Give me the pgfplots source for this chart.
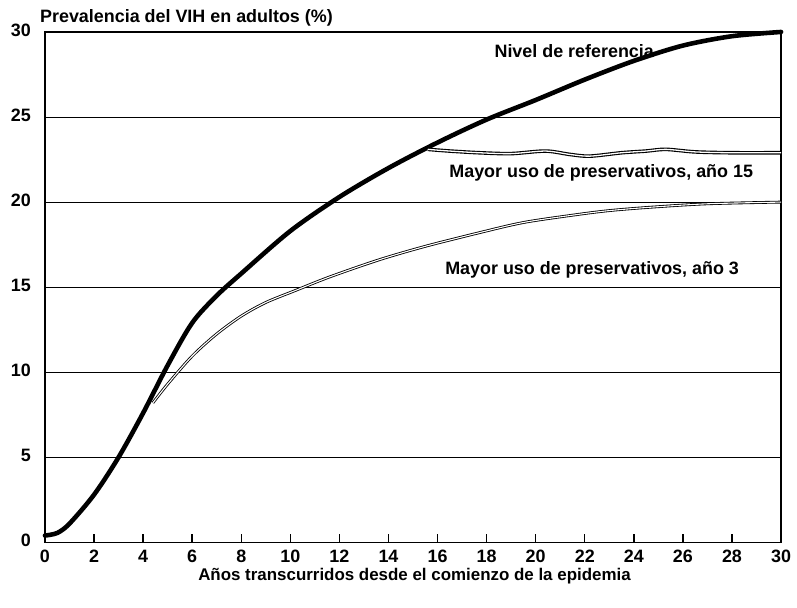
\documentclass[border=0pt]{standalone}
\usepackage{pgfplots}
\pgfplotsset{compat=1.18}
\usepackage{fontspec}
\setmainfont{Liberation Sans}
\begin{document}
\fontsize{18}{21}\selectfont\bfseries
\begin{tikzpicture}
\begin{axis}[
  scale only axis, width=737bp, height=511bp,
  xmin=0, xmax=30, ymin=0, ymax=30,
  xtick={0,2,...,30}, ytick={0,5,...,30},
  tick pos=left,
  ymajorgrids, grid style={black, line width=0.6pt},
  xtick style={black, line width=1.4pt}, xtick align=inside,
  major tick length=8bp,
  ytick style={draw=none},
  axis line style={black, line width=1.4pt},
  tick label style={font=\fontsize{18}{21}\selectfont\bfseries},
  /pgf/number format/assume math mode=true,
  xticklabel style={yshift=-1pt, text height=13bp, text depth=0pt},
  yticklabel style={xshift=-8bp, yshift=2bp},
  xlabel={Años transcurridos desde el comienzo de la epidemia},
  xlabel style={at={(axis description cs:0.502,0)}, anchor=center, yshift=-34bp, font=\fontsize{17}{20}\selectfont\bfseries},
  clip=false,
]
\path ([xshift=-45bp,yshift=-65bp]rel axis cs:0,0) rectangle ([xshift=15bp,yshift=32bp]rel axis cs:1,1);
% baseline
\addplot[black, line width=4.6pt, smooth, line cap=round] coordinates {
(0,0.4) (0.5,0.55) (1,1.1) (2,2.8) (3,5.0) (4,7.6) (5,10.4) (6,12.9) (7,14.5) (8,15.8) (10,18.3)
(12,20.3) (14,22.0) (16,23.5) (18,24.85) (20,26.0) (22,27.2) (24,28.3) (26,29.2) (28,29.75) (30,30.0)};
% year 3
\addplot[black, line width=2.8pt, smooth] coordinates {
(4.4,8.2) (5,9.3) (6,10.95) (7,12.25) (8,13.3) (9,14.1) (10.2,14.8) (11.6,15.6) (13.6,16.6)
(15.5,17.4) (17.7,18.2) (19.5,18.8) (21.6,19.25) (23,19.5) (24.7,19.7) (27,19.9) (30,20.0)};
\addplot[white, line width=1.1pt, smooth] coordinates {
(4.4,8.2) (5,9.3) (6,10.95) (7,12.25) (8,13.3) (9,14.1) (10.2,14.8) (11.6,15.6) (13.6,16.6)
(15.5,17.4) (17.7,18.2) (19.5,18.8) (21.6,19.25) (23,19.5) (24.7,19.7) (27,19.9) (30,20.0)};
% year 15
\addplot[black, line width=3.6pt, smooth] coordinates {
(15.6,23.1) (16.5,23.0) (17.7,22.9) (19,22.85) (20.4,23.0) (21.4,22.8) (22.2,22.7) (23.5,22.9)
(24.5,23.0) (25.3,23.1) (26.5,22.95) (28,22.9) (30,22.9)};
\addplot[white, line width=1.3pt, smooth] coordinates {
(15.6,23.1) (16.5,23.0) (17.7,22.9) (19,22.85) (20.4,23.0) (21.4,22.8) (22.2,22.7) (23.5,22.9)
(24.5,23.0) (25.3,23.1) (26.5,22.95) (28,22.9) (30,22.9)};
\node[font=\fontsize{18}{21}\selectfont\bfseries] at (axis cs:21.57,28.9) {Nivel de referencia};
\node[font=\fontsize{18}{21}\selectfont\bfseries] at (axis cs:22.67,21.7) {Mayor uso de preservativos, año 15};
\node[font=\fontsize{18}{21}\selectfont\bfseries] at (axis cs:22.3,16.0) {Mayor uso de preservativos, año 3};
\end{axis}
\node[anchor=base west, inner sep=0pt, font=\fontsize{18}{21}\selectfont\bfseries] at ([xshift=-5bp,yshift=9bp]current axis.north west) {Prevalencia del VIH en adultos (\%)};
\end{tikzpicture}
\end{document}
